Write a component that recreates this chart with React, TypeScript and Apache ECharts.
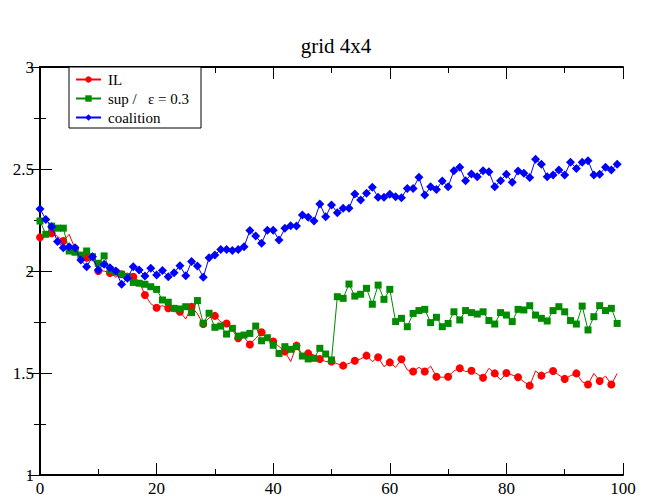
import React, { useEffect, useRef } from "react";
import * as echarts from "echarts";

const titleText = "grid 4x4";
const seriesNames = ["IL", "sup /\u00a0\u00a0 ε = 0.3", "coalition"];

const ilValues = [
  2.165, 2.19, 2.185, 2.17, 2.147, 2.18, 2.11, 2.08, 2.065, 2.06,
  2.0, 2.0, 1.99, 1.97, 1.984, 1.99, 1.972, 1.95, 1.882, 1.84,
  1.82, 1.83, 1.817, 1.8, 1.8, 1.765, 1.825, 1.79, 1.74, 1.77,
  1.78, 1.75, 1.743, 1.71, 1.67, 1.675, 1.64, 1.67, 1.7, 1.66,
  1.654, 1.63, 1.605, 1.556, 1.634, 1.59, 1.596, 1.588, 1.569, 1.556,
  1.556, 1.545, 1.536, 1.547, 1.56, 1.569, 1.585, 1.556, 1.577, 1.531,
  1.552, 1.528, 1.567, 1.515, 1.507, 1.528, 1.507, 1.534, 1.482, 1.479,
  1.482, 1.51, 1.523, 1.507, 1.511, 1.495, 1.477, 1.523, 1.498, 1.466,
  1.5, 1.49, 1.479, 1.457, 1.438, 1.51, 1.487, 1.503, 1.51, 1.49,
  1.471, 1.487, 1.498, 1.457, 1.444, 1.498, 1.461, 1.485, 1.444, 1.498,
];

const supValues = [
  2.245, 2.18, 2.22, 2.21, 2.21, 2.098, 2.092, 2.078, 2.098, 2.07,
  2.038, 2.074, 2.005, 1.994, 1.984, 1.972, 1.944, 1.94, 1.935, 1.923,
  1.91, 1.858, 1.847, 1.817, 1.814, 1.825, 1.796, 1.855, 1.744, 1.793,
  1.724, 1.73, 1.691, 1.719, 1.681, 1.686, 1.694, 1.73, 1.658, 1.673,
  1.636, 1.596, 1.629, 1.616, 1.629, 1.583, 1.569, 1.572, 1.621, 1.593,
  1.564, 1.874, 1.866, 1.936, 1.877, 1.886, 1.915, 1.837, 1.931, 1.861,
  1.91, 1.752, 1.768, 1.727, 1.792, 1.806, 1.812, 1.747, 1.773, 1.727,
  1.743, 1.8, 1.76, 1.806, 1.796, 1.789, 1.8, 1.757, 1.74, 1.796,
  1.784, 1.752, 1.812, 1.809, 1.83, 1.784, 1.768, 1.755, 1.806, 1.825,
  1.8, 1.757, 1.74, 1.828, 1.711, 1.776, 1.83, 1.806, 1.817, 1.743,
];

const coalitionValues = [
  2.304, 2.253, 2.217, 2.144, 2.114, 2.119, 2.114, 2.054, 2.021, 2.07,
  2.005, 2.033, 2.016, 2.0, 1.935, 1.964, 2.021, 2.005, 1.975, 2.013,
  1.98, 2.002, 1.972, 1.992, 2.026, 1.977, 2.046, 2.025, 1.969, 2.065,
  2.078, 2.106, 2.106, 2.1, 2.106, 2.119, 2.198, 2.172, 2.136, 2.2,
  2.2, 2.152, 2.209, 2.222, 2.221, 2.275, 2.263, 2.245, 2.328, 2.266,
  2.324, 2.286, 2.307, 2.307, 2.377, 2.348, 2.381, 2.41, 2.361, 2.361,
  2.376, 2.364, 2.359, 2.405, 2.405, 2.459, 2.373, 2.413, 2.4, 2.441,
  2.413, 2.492, 2.508, 2.443, 2.475, 2.462, 2.492, 2.487, 2.413, 2.443,
  2.474, 2.435, 2.49, 2.479, 2.458, 2.548, 2.523, 2.462, 2.471, 2.495,
  2.471, 2.533, 2.503, 2.533, 2.541, 2.471, 2.474, 2.508, 2.495, 2.523,
];

const xTicks = [0, 20, 40, 60, 80, 100];
const yTicks = [1, 1.5, 2, 2.5, 3];

const FONT = "'Liberation Serif', 'Times New Roman', serif";

export default function App() {
  const ref = useRef<HTMLDivElement>(null);

  useEffect(() => {
    if (!ref.current) return;
    const chart = echarts.init(ref.current, null, { renderer: "svg" });
    const toPairs = (vals: number[]) => vals.map((v, i) => [i, v]);

    const tickCommon = {
      axisLine: { show: true, lineStyle: { color: "#000", width: 2 } },
      axisTick: { show: true, inside: true, length: 12, lineStyle: { color: "#000", width: 1 } },
      minorTick: { show: true, splitNumber: 2, length: 6, lineStyle: { color: "#000", width: 1 } },
      splitLine: { show: false },
      minorSplitLine: { show: false },
    };

    const xMin = xTicks[0];
    const xMax = xTicks[xTicks.length - 1];
    const yMin = yTicks[0];
    const yMax = yTicks[yTicks.length - 1];

    chart.setOption({
      animation: false,
      backgroundColor: "#fff",
      textStyle: { fontFamily: FONT },
      title: {
        text: titleText,
        left: 331,
        textAlign: "center",
        top: 30,
        textStyle: { fontFamily: FONT, fontSize: 21, fontWeight: "normal", color: "#000" },
      },
      legend: {
        orient: "vertical",
        left: 69,
        top: 67,
        itemWidth: 25,
        itemHeight: 8,
        itemGap: 4,
        padding: [5, 12, 3, 6],
        borderColor: "#000",
        borderWidth: 1,
        backgroundColor: "#fff",
        textStyle: { fontFamily: FONT, fontSize: 15, color: "#000", padding: [0, 0, 0, 2] },
        data: seriesNames,
      },
      grid: { left: 40, right: 23, top: 67, bottom: 22, containLabel: false },
      xAxis: [
        {
          type: "value",
          min: xMin,
          max: xMax,
          interval: 20,
          position: "bottom",
          ...tickCommon,
          axisLabel: {
            show: true,
            margin: 5,
            fontFamily: FONT,
            fontSize: 17,
            color: "#000",
          },
        },
        {
          type: "value",
          min: xMin,
          max: xMax,
          interval: 20,
          position: "top",
          ...tickCommon,
          axisLabel: { show: false },
        },
      ],
      yAxis: [
        {
          type: "value",
          min: yMin,
          max: yMax,
          interval: 0.5,
          position: "left",
          ...tickCommon,
          axisLabel: {
            show: true,
            margin: 6,
            fontFamily: FONT,
            fontSize: 17,
            color: "#000",
          },
        },
        {
          type: "value",
          min: yMin,
          max: yMax,
          interval: 0.5,
          position: "right",
          ...tickCommon,
          axisLabel: { show: false },
        },
      ],
      series: [
        {
          name: seriesNames[0],
          type: "line",
          data: toPairs(ilValues),
          clip: false,
          showAllSymbol: true,
          symbol: "circle",
          symbolSize: (_v: any, p: any) => (p.dataIndex % 2 === 0 ? 8 : 0),
          lineStyle: { color: "#ff0000", width: 1 },
          itemStyle: { color: "#ff0000" },
          z: 2,
        },
        {
          name: seriesNames[1],
          type: "line",
          data: toPairs(supValues),
          clip: false,
          showAllSymbol: true,
          symbol: "rect",
          symbolSize: 7,
          lineStyle: { color: "#008b00", width: 1 },
          itemStyle: { color: "#008b00" },
          z: 3,
        },
        {
          name: seriesNames[2],
          type: "line",
          data: toPairs(coalitionValues),
          clip: false,
          showAllSymbol: true,
          symbol: "diamond",
          symbolSize: 9,
          lineStyle: { color: "#0000ff", width: 1 },
          itemStyle: { color: "#0000ff" },
          z: 4,
        },
      ],
    });

    return () => chart.dispose();
  }, []);

  return <div ref={ref} style={{ width: 646, height: 497, position: "absolute", left: 0, top: 0 }} />;
}
